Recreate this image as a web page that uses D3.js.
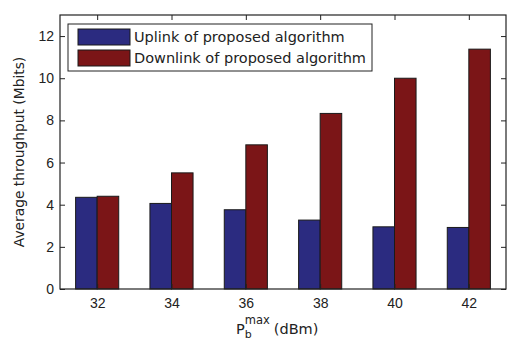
<!DOCTYPE html>
<html lang="en">
<head>
    <meta charset="UTF-8">
    <title>Average throughput</title>
    <script src="https://d3js.org/d3.v7.min.js"></script>
    <style>
        body {
            margin: 0;
            padding: 0;
            background: #fff;
            font-family: "DejaVu Sans", sans-serif;
        }
        .chart text {
            fill: #222;
        }
    </style>
</head>
<body>
    <svg class="chart"></svg>
    <script>
        const powers = [32, 34, 36, 38, 40, 42];
        const uplink = [4.35, 4.06, 3.76, 3.27, 2.95, 2.92];
        const downlink = [4.40, 5.51, 6.84, 8.33, 10.0, 11.38];
        const yTicks = [0, 2, 4, 6, 8, 10, 12];
        const seriesNames = ["Uplink of proposed algorithm", "Downlink of proposed algorithm"];
        const seriesColors = ["#2b2b80", "#7b1517"];

        const width = 508;
        const height = 342;
        const margin = { top: 15, right: 2, bottom: 53, left: 60 };

        const svg = d3.select(".chart")
            .attr("width", width)
            .attr("height", height);

        const x = d3.scaleLinear()
            .domain([31, 43])
            .range([margin.left, width - margin.right]);

        const y = d3.scaleLinear()
            .domain([0, 13])
            .range([height - margin.bottom, margin.top]);

        const barW = 0.58;
        const series = [uplink, downlink];

        // bars
        series.forEach(function (vals, s) {
            svg.append("g")
                .selectAll("rect")
                .data(powers.map((p, i) => ({ p: p, v: vals[i] })))
                .enter()
                .append("rect")
                .attr("x", d => x(s === 0 ? d.p - barW : d.p))
                .attr("y", d => y(d.v))
                .attr("width", x(barW) - x(0))
                .attr("height", d => y(0) - y(d.v))
                .attr("fill", seriesColors[s])
                .attr("stroke", "#1a1a1a")
                .attr("stroke-width", 1);
        });

        // axes, ticks pointing inward
        const fontSize = 14;
        svg.append("g")
            .attr("transform", `translate(0,${height - margin.bottom})`)
            .call(d3.axisBottom(x).tickValues(powers).tickSize(-5).tickPadding(9))
            .call(g => g.select(".domain").remove())
            .selectAll("text").style("font-size", fontSize + "px");

        svg.append("g")
            .attr("transform", `translate(0,${margin.top})`)
            .call(d3.axisTop(x).tickValues(powers).tickSize(-5).tickFormat(""))
            .call(g => g.select(".domain").remove());

        svg.append("g")
            .attr("transform", `translate(${margin.left},0)`)
            .call(d3.axisLeft(y).tickValues(yTicks).tickSize(-5).tickPadding(6))
            .call(g => g.select(".domain").remove())
            .selectAll("text").style("font-size", fontSize + "px");

        svg.append("g")
            .attr("transform", `translate(${width - margin.right},0)`)
            .call(d3.axisRight(y).tickValues(yTicks).tickSize(-5).tickFormat(""))
            .call(g => g.select(".domain").remove());

        svg.selectAll(".tick line").attr("stroke", "#222");

        // frame
        svg.append("rect")
            .attr("x", margin.left)
            .attr("y", margin.top)
            .attr("width", width - margin.left - margin.right)
            .attr("height", height - margin.top - margin.bottom)
            .attr("fill", "none")
            .attr("stroke", "#222")
            .attr("stroke-width", 1.2);

        // axis labels
        svg.append("text")
            .attr("transform", `translate(24,${(margin.top + height - margin.bottom) / 2}) rotate(-90)`)
            .attr("text-anchor", "middle")
            .style("font-size", "13.8px")
            .text("Average throughput (Mbits)");

        const xl = svg.append("text")
            .attr("x", 236)
            .attr("y", 334)
            .style("font-size", "14.5px");
        xl.append("tspan").text("P");
        xl.append("tspan").attr("dy", 4).style("font-size", "11px").text("b");
        xl.append("tspan").attr("dx", -7).attr("dy", -14).style("font-size", "11.5px").text("max");
        xl.append("tspan").attr("dx", 4).attr("dy", 10).text("(dBm)");

        // legend
        const legend = svg.append("g");
        legend.append("rect")
            .attr("x", 68)
            .attr("y", 24)
            .attr("width", 304)
            .attr("height", 47)
            .attr("fill", "#fff")
            .attr("stroke", "#222")
            .attr("stroke-width", 1);

        seriesNames.forEach(function (name, i) {
            legend.append("rect")
                .attr("x", 78)
                .attr("y", 29 + i * 21)
                .attr("width", 52)
                .attr("height", 16)
                .attr("fill", seriesColors[i])
                .attr("stroke", "#1a1a1a");
            legend.append("text")
                .attr("x", 134)
                .attr("y", 42 + i * 21)
                .style("font-size", "14.5px")
                .text(name);
        });
    </script>
</body>
</html>
